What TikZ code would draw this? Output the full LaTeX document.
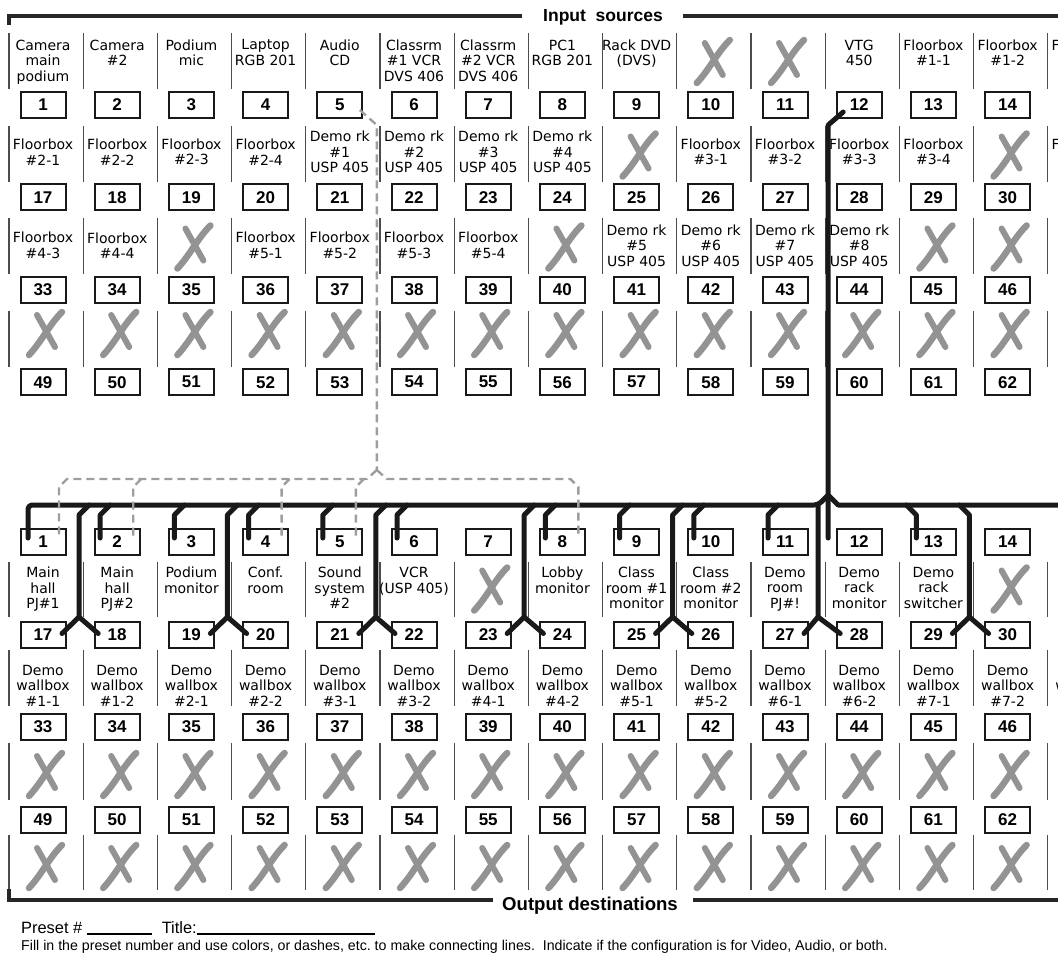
\documentclass[tikz,border=0pt]{standalone}
\usepackage{fontspec}
\setmainfont{Liberation Sans}
\newfontfamily\handfont{DejaVu Sans}
\usetikzlibrary{calc,positioning}
\definecolor{MarkGray}{RGB}{147,147,147}
\definecolor{PathGray}{RGB}{158,158,158}

\tikzset{
  numbox/.style={draw=black!90, line width=2pt, fill=white, minimum width=45pt,
    minimum height=26pt, inner sep=0pt, font=\fontsize{17}{19}\selectfont\bfseries},
  devlabel/.style={align=center, inner sep=0pt, font=\handfont\fontsize{14}{15.5}\selectfont},
  colline/.style={line width=1.3pt, black!70},
  feedline/.style={line width=5pt, black!90, line cap=round, line join=round},
  audioline/.style={line width=2.4pt, PathGray, dash pattern=on 8pt off 5pt},
  bracketline/.style={line width=3.8pt, black!85},
  unused/.pic={
    \draw[line width=6.5pt, MarkGray, line cap=round] (-14,22) .. controls (-1,8) and (6,-8) .. (19,-21);
    \draw[line width=6pt, MarkGray, line cap=round] (-6,-18) -- (12,14);
  }
}

\begin{document}
\begin{tikzpicture}[x=1pt, y=-1pt]
  \useasboundingbox (0,0) rectangle (1058,954);
  \clip (0,0) rectangle (1058,954);

  % Column separators of every label row
  \foreach \ya/\yb in {33/89, 126/182, 218/274, 311/367, 562/617, 650/706, 743/800, 835/890}
    \foreach \k in {0,...,14}
      \draw[colline] (9+74.2*\k, \ya) -- (9+74.2*\k, \yb);

  % Input and output number boxes
  \foreach \r in {0,...,3}
    \foreach \k in {1,...,14} {
      \pgfmathtruncatemacro{\n}{16*\r+\k}
      \node[numbox] (in\n) at (43+74.2*\k-74.2, 105+92.4*\r) {\n};
      \node[numbox] (out\n) at (43+74.2*\k-74.2, 542+92.5*\r) {\n};
    }

  % Input source labels
  \foreach \n/\txt in {1/{Camera\\main\\podium}, 2/{Camera\\\#2}, 3/{Podium\\mic},
      4/{Laptop\\RGB 201}, 5/{Audio\\CD}, 6/{Classrm\\\#1 VCR\\DVS 406},
      7/{Classrm\\\#2 VCR\\DVS 406}, 8/{PC1\\RGB 201}, 9/{Rack DVD\\(DVS)},
      12/{VTG\\450}, 13/{Floorbox\\\#1-1}, 14/{Floorbox\\\#1-2}, 15/{Floorbox\\\#1-3}}
    \node[devlabel, anchor=north] (src\n) at (43+74.2*\n-74.2, 39.5) {\txt};
  \foreach \n/\txt in {17/{Floorbox\\\#2-1}, 18/{Floorbox\\\#2-2}, 19/{Floorbox\\\#2-3},
      20/{Floorbox\\\#2-4}, 21/{Demo rk\\\#1\\USP 405}, 22/{Demo rk\\\#2\\USP 405},
      23/{Demo rk\\\#3\\USP 405}, 24/{Demo rk\\\#4\\USP 405}, 26/{Floorbox\\\#3-1},
      27/{Floorbox\\\#3-2}, 28/{Floorbox\\\#3-3}, 29/{Floorbox\\\#3-4}, 31/{Floorbox\\\#4-1}}
    \node[devlabel] (src\n) at (43+74.2*\n-74.2-74.2*16, 152) {\txt};
  \foreach \n/\txt in {33/{Floorbox\\\#4-3}, 34/{Floorbox\\\#4-4}, 36/{Floorbox\\\#5-1},
      37/{Floorbox\\\#5-2}, 38/{Floorbox\\\#5-3}, 39/{Floorbox\\\#5-4},
      41/{Demo rk\\\#5\\USP 405}, 42/{Demo rk\\\#6\\USP 405},
      43/{Demo rk\\\#7\\USP 405}, 44/{Demo rk\\\#8\\USP 405}}
    \node[devlabel] (src\n) at (43+74.2*\n-74.2-74.2*32, 245.5) {\txt};

  % Output destination labels
  \foreach \n/\txt in {1/{Main\\hall\\PJ\#1}, 2/{Main\\hall\\PJ\#2}, 3/{Podium\\monitor},
      4/{Conf.\\room}, 5/{Sound\\system\\\#2}, 6/{VCR\\(USP 405)}, 8/{Lobby\\monitor},
      9/{Class\\room \#1\\monitor}, 10/{Class\\room \#2\\monitor}, 11/{Demo\\room\\PJ\#!},
      12/{Demo\\rack\\monitor}, 13/{Demo\\rack\\switcher}}
    \node[devlabel, anchor=north] (dst\n) at (43+74.2*\n-74.2, 567) {\txt};
  \foreach \n in {17,...,31} {
    \pgfmathtruncatemacro{\wa}{div(\n-17,2)+1}
    \pgfmathtruncatemacro{\wb}{mod(\n-17,2)+1}
    \node[devlabel, anchor=north] (dst\n) at (43+74.2*\n-74.2-74.2*16, 665) {Demo\\wallbox\\\#\wa-\wb};
  }

  % Unused slots
  \foreach \k in {10,11} \pic at (43+74.2*\k-74.2, 61) {unused};
  \foreach \k in {9,14} \pic at (43+74.2*\k-74.2, 154.5) {unused};
  \foreach \k in {3,8,13,14} \pic at (43+74.2*\k-74.2, 246.5) {unused};
  \foreach \k in {1,...,14} \pic at (43+74.2*\k-74.2, 333) {unused};
  \foreach \k in {7,14} \pic at (43+74.2*\k-74.2, 588.5) {unused};
  \foreach \k in {1,...,14} \pic at (43+74.2*\k-74.2, 774) {unused};
  \foreach \k in {1,...,14} \pic at (43+74.2*\k-74.2, 866) {unused};

  % Section brackets
  \node[anchor=base, inner sep=0pt, font=\fontsize{17.5}{20}\selectfont\bfseries] (insrc) at (603,21) {Input~~sources};
  \draw[bracketline] ($(insrc.base west)+(-21,-5)$) -| (9,25);
  \draw[bracketline] ($(insrc.base east)+(20,-5)$) -- (1070,16);
  \node[anchor=base, inner sep=0pt, font=\fontsize{18.6}{20}\selectfont\bfseries] (outdst) at (590,910) {Output destinations};
  \draw[bracketline] ($(outdst.base west)+(-9,-10)$) -| (9,889);
  \draw[bracketline] ($(outdst.base east)+(15,-10)$) -- (1070,900);

  % Video feed from input 12
  \coordinate (split) at ($(out12)+(-31,-47)$);
  \coordinate (busend) at (1070,505);
  \draw[feedline] ($(in12)+(-16,7)$) -- ++(-15,13) -- (split) -- ($(out12)+(-31,-4)$);
  \draw[feedline, rounded corners=4pt] (split) -- ++(-10,10) -| ($(out1)+(-15,-4)$);
  \draw[feedline] (split) -- ++(10,10) -- (busend);
  \foreach \k in {2,3,4,5,6,8,9,10,11}
    \draw[feedline] ($(out\k)+(-7,-37)$) -- ++(-10,10) -- ($(out\k)+(-17,-4)$);
  \draw[feedline] ($(out13)+(-27,-37)$) -- ++(10,10) -- ($(out13)+(-17,-4)$);
  \foreach \a/\b in {17/18, 19/20, 21/22, 23/24, 25/26} {
    \draw[feedline] ($(out\a)+(46,-129.5)$) -- ++(-10,10) -- ($(out\a)+(36,-17.5)$) coordinate (fork\a) -- ($(out\a)+(19,-1)$);
    \draw[feedline] (fork\a) -- ($(out\b)+(-19,-1)$);
  }
  \draw[feedline] (split) ++(-10,10) -- ($(out27)+(33,-17.5)$) coordinate (fork27) -- ($(out27)+(19,-1)$);
  \draw[feedline] (fork27) -- ($(out28)+(-19,-1)$);
  \draw[feedline] ($(out29)+(26,-129.5)$) -- ++(10,10) -- ($(out29)+(36,-17.5)$) coordinate (fork29) -- ($(out29)+(19,-1)$);
  \draw[feedline] (fork29) -- ($(out30)+(-19,-1)$);

  % Audio feed from input 5
  \draw[audioline] ($(in5)+(20,5)$) -- ++(17,15) -- ($(out5)+(37,-72)$) coordinate (asplit);
  \draw[audioline] (asplit) -- ++(-10,9) -- ($(out1)+(24,-63)$) -- ++(-8,8) -- ($(out1)+(16,-5)$);
  \foreach \k in {2,4,5}
    \draw[audioline] ($(out\k)+(24,-63)$) -- ++(-8,8) -- ($(out\k)+(16,-5)$);
  \draw[audioline] (asplit) -- ++(10,9) -- ($(out8)+(8,-63)$) -- ++(8,8) -- ($(out8)+(16,-5)$);

  % Footer
  \node[anchor=base west, inner sep=0pt, font=\fontsize{16.4}{18}\selectfont] (preset) at (21,933)
    {Preset \# \rule[-1.5pt]{65pt}{1.3pt}\hspace{10pt}Title:\rule[-1.5pt]{178pt}{1.3pt}};
  \node[anchor=base west, inner sep=0pt, font=\fontsize{14.2}{16}\selectfont] (note) at (21,950)
    {Fill in the preset number and use colors, or dashes, etc.\ to make connecting lines.\ \ Indicate if the configuration is for Video, Audio, or both.};
\end{tikzpicture}
\end{document}
